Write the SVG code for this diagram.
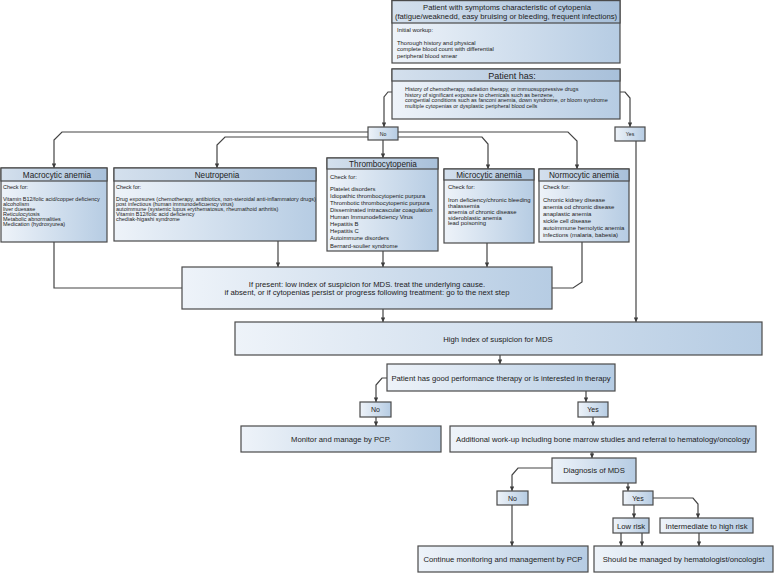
<svg xmlns="http://www.w3.org/2000/svg" width="775" height="573" viewBox="0 0 775 573">
<defs>
<linearGradient id="gb" x1="0" y1="0" x2="1" y2="0"><stop offset="0" stop-color="#eef3f9"/><stop offset="1" stop-color="#b6cce3"/></linearGradient>
<linearGradient id="gh" x1="0" y1="0" x2="1" y2="0"><stop offset="0" stop-color="#d4e0ed"/><stop offset="1" stop-color="#a8c0da"/></linearGradient>
<marker id="ah" viewBox="0 0 6 6" refX="6" refY="3" markerWidth="5" markerHeight="4.5" orient="auto" markerUnits="userSpaceOnUse"><path d="M0,0 L6,3 L0,6 z" fill="#3d3d3d"/></marker>
<style>
.box{fill:url(#gb);stroke:#4a4a4a;stroke-width:1.2}
.hdr{fill:url(#gh);stroke:#4a4a4a;stroke-width:1.2}
.c{fill:none;stroke:#444;stroke-width:1.2}
.a{marker-end:url(#ah)}
text{font-family:"Liberation Sans",Arial,Helvetica,sans-serif;fill:#222}
.m{text-anchor:middle}
.h{font-size:8.2px}
.t{font-size:7.7px}
.yn{font-size:7px}
.yn1{font-size:5.2px}
.ttl{font-size:7.7px}
.ph{font-size:9px}
.s55{font-size:5.5px}
.s59{font-size:5.9px}
.s6{font-size:6px}
</style>
</defs>

<g id="connectors">
<path class="c a" d="M392,92 H388 L384,97 V127"/>
<path class="c a" d="M620,92 H625 L630,98 V127"/>
<path class="c a" d="M368,132 H62 L54,140 V168"/>
<path class="c a" d="M368,137 H225 L217,145 V168"/>
<path class="c a" d="M398,132 H568 L577,141 V169"/>
<path class="c a" d="M398,137 H482 L488,144 V169"/>
<path class="c a" d="M383,140 V158"/>
<path class="c a" d="M636,141 V322"/>
<path class="c" d="M54,242 V288 H182"/>
<path class="c a" d="M278,241 V267"/>
<path class="c a" d="M383,251 V267"/>
<path class="c a" d="M487,243 V267"/>
<path class="c" d="M582,242 V282 L573,288 H552"/>
<path class="c a" d="M383,309 V322"/>
<path class="c a" d="M500,355 V364"/>
<path class="c a" d="M387,378 H382 L376,385 V402"/>
<path class="c a" d="M586,391 V402"/>
<path class="c a" d="M376,417 V426"/>
<path class="c a" d="M593,417 V426"/>
<path class="c a" d="M592,452 V458"/>
<path class="c a" d="M552,468 H518 L512,475 V491"/>
<path class="c a" d="M628,483 V491"/>
<path class="c a" d="M512,505 V546"/>
<path class="c a" d="M634,505 V518"/>
<path class="c a" d="M653,498 H693 L698,504 V518"/>
<path class="c a" d="M621,533 V546"/>
<path class="c a" d="M642,533 V546"/>
<path class="c a" d="M699,533 V546"/>
</g>

<g id="n-start">
<rect class="box" x="392" y="0.6" width="228" height="62.4"/>
<rect class="hdr" x="392" y="0.6" width="228" height="22.4"/>
<text class="ttl m" x="507" y="10">Patient with symptoms characteristic of cytopenia</text>
<text class="ttl m" x="506" y="19">(fatigue/weaknedd, easy bruising or bleeding, frequent infections)</text>
<text class="s59" x="397" y="32">Initial workup:</text>
<text class="s59" x="397" y="44.5">Thorough history and physical</text>
<text class="s59" x="397" y="51">complete blood count with differential</text>
<text class="s59" x="397" y="58">peripheral blood smear</text>
</g>

<g id="n-has">
<rect class="box" x="392" y="69" width="228" height="50"/>
<rect class="hdr" x="392" y="69" width="228" height="12"/>
<text class="ph m" x="512" y="78.5">Patient has:</text>
<text class="s55" x="405" y="91">History of chemotherapy, radiation therapy, or immuosuppressive drugs</text>
<text class="s55" x="405" y="96.5">history of significant exposure to chemicals such as benzene,</text>
<text class="s55" x="405" y="102">congential conditions such as fanconi anemia, down syndrome, or bloom syndrome</text>
<text class="s55" x="405" y="107.5">multiple cytopenias or dysplastic peripheral blood cells</text>
</g>

<g id="n-no1">
<rect class="box" x="368" y="127" width="30" height="13"/>
<text class="yn1 m" x="383" y="135.5">No</text>
</g>
<g id="n-yes1">
<rect class="box" x="615" y="127" width="30" height="14"/>
<text class="yn1 m" x="630" y="136">Yes</text>
</g>

<g id="n-macro">
<rect class="box" x="1" y="168" width="106" height="74"/>
<rect class="hdr" x="1" y="168" width="106" height="13"/>
<text class="h m" x="57" y="177.5">Macrocytic anemia</text>
<text class="s55" x="3" y="189">Check for:</text>
<text class="s55" x="3" y="201">Vitamin B12/folic acid/copper deficiency</text>
<text class="s55" x="3" y="206">alcoholism</text>
<text class="s55" x="3" y="211">liver duesase</text>
<text class="s55" x="3" y="216">Reticulocytosis</text>
<text class="s55" x="3" y="221">Metabolic abnormalities</text>
<text class="s55" x="3" y="226">Medication (hydroxyurea)</text>
</g>

<g id="n-neutro">
<rect class="box" x="114" y="168" width="202" height="73"/>
<rect class="hdr" x="114" y="168" width="202" height="13"/>
<text class="h m" x="217" y="177.5">Neutropenia</text>
<text class="s55" x="116" y="189">Check for:</text>
<text class="s55" x="116" y="201">Drug exposures (chemotherapy, antibiotics, non-steroidal anti-inflammatory drugs)</text>
<text class="s55" x="116" y="206">post infectious (human immunodeficuency virus)</text>
<text class="s55" x="116" y="211">autoimmune (systemic lupus erythematosus, rheumathoid arthritis)</text>
<text class="s55" x="116" y="216">Vitamin B12/folic acid deficiency</text>
<text class="s55" x="116" y="221">chediak-higashi syndrome</text>
</g>

<g id="n-thrombo">
<rect class="box" x="327" y="158" width="111" height="93"/>
<rect class="hdr" x="327" y="158" width="111" height="11"/>
<text class="h m" x="383" y="166.5">Thrombocytopenia</text>
<text class="s59" x="330" y="179">Check for:</text>
<text class="s59" x="330" y="191">Platelet disorders</text>
<text class="s59" x="330" y="198">Idiopathic thrombocytopenic purpura</text>
<text class="s59" x="330" y="205">Thrombotic thrombocytopenic purpura</text>
<text class="s59" x="330" y="212">Disseminated intracascular coagulation</text>
<text class="s59" x="330" y="219">Human Immunodeficiency Virus</text>
<text class="s59" x="330" y="226">Hepatitis B</text>
<text class="s59" x="330" y="233">Hepatitis C</text>
<text class="s59" x="330" y="240">Autoimmune disorders</text>
<text class="s59" x="330" y="247.5">Bernard-soulier syndrome</text>
</g>

<g id="n-micro">
<rect class="box" x="444" y="169" width="90" height="74"/>
<rect class="hdr" x="444" y="169" width="90" height="11"/>
<text class="h m" x="489" y="177.5">Microcytic anemia</text>
<text class="s59" x="448" y="189">Check for:</text>
<text class="s59" x="448" y="202">Iron deficiency/chronic bleeding</text>
<text class="s59" x="448" y="208">thalassemia</text>
<text class="s59" x="448" y="214">anemia of chronic disease</text>
<text class="s59" x="448" y="219.5">sideroblastic anemia</text>
<text class="s59" x="448" y="225">lead poisoning</text>
</g>

<g id="n-normo">
<rect class="box" x="539" y="169" width="90" height="73"/>
<rect class="hdr" x="539" y="169" width="90" height="12"/>
<text class="h m" x="584" y="177.5">Normocytic anemia</text>
<text class="s59" x="543" y="189">Check for:</text>
<text class="s6" x="543" y="202">Chronic kidney disease</text>
<text class="s6" x="543" y="209">anemia od chronic disease</text>
<text class="s6" x="543" y="216">anaplastic anemia</text>
<text class="s6" x="543" y="223">sickle cell disease</text>
<text class="s6" x="543" y="230">autoimmune hemolytic anemia</text>
<text class="s6" x="543" y="237">infections (malaria, babesia)</text>
</g>

<g id="n-ifpresent">
<rect class="box" x="182" y="267" width="370" height="42"/>
<text class="t m" x="367" y="286.5">If present:  low index of suspicion for MDS. treat the underlying cause.</text>
<text class="t m" x="367" y="295">if absent, or if cytopenias persist or progress following treatment: go to the next step</text>
</g>

<g id="n-high">
<rect class="box" x="235" y="322" width="527" height="33"/>
<text class="t m" x="498" y="341.5">High index of suspicion for MDS</text>
</g>

<g id="n-perf">
<rect class="box" x="387" y="364" width="228" height="27"/>
<text class="t m" x="501" y="380.5">Patient has good performance therapy or is interested in therapy</text>
</g>

<g id="n-no2">
<rect class="box" x="360" y="402" width="31" height="15"/>
<text class="yn m" x="375.5" y="412">No</text>
</g>
<g id="n-yes2">
<rect class="box" x="578" y="402" width="30" height="15"/>
<text class="yn m" x="593" y="412">Yes</text>
</g>

<g id="n-monitor">
<rect class="box" x="241" y="426" width="200" height="26"/>
<text class="t m" x="341" y="441.5">Monitor and manage by PCP.</text>
</g>
<g id="n-workup">
<rect class="box" x="450" y="426" width="306" height="26"/>
<text class="t m" x="603" y="441.5">Additional work-up including bone marrow studies and referral to hematology/oncology</text>
</g>

<g id="n-diag">
<rect class="box" x="552" y="458" width="84" height="25"/>
<text class="t m" x="594" y="473">Diagnosis of MDS</text>
</g>

<g id="n-no3">
<rect class="box" x="497" y="491" width="31" height="14"/>
<text class="yn m" x="512.5" y="500.5">No</text>
</g>
<g id="n-yes3">
<rect class="box" x="623" y="491" width="30" height="14"/>
<text class="yn m" x="638" y="500.5">Yes</text>
</g>

<g id="n-low">
<rect class="box" x="613" y="518" width="36" height="15"/>
<text class="t m" x="631" y="528.5">Low risk</text>
</g>
<g id="n-inter">
<rect class="box" x="660" y="518" width="93" height="15"/>
<text class="t m" x="706.5" y="528.5">Intermediate to high risk</text>
</g>

<g id="n-continue">
<rect class="box" x="418" y="546" width="170" height="26"/>
<text class="t m" x="503" y="561.5">Continue monitoring and management by PCP</text>
</g>
<g id="n-should">
<rect class="box" x="594" y="546" width="179" height="26"/>
<text class="t m" x="683.5" y="561.5">Should be managed by hematologist/oncologist</text>
</g>
</svg>
